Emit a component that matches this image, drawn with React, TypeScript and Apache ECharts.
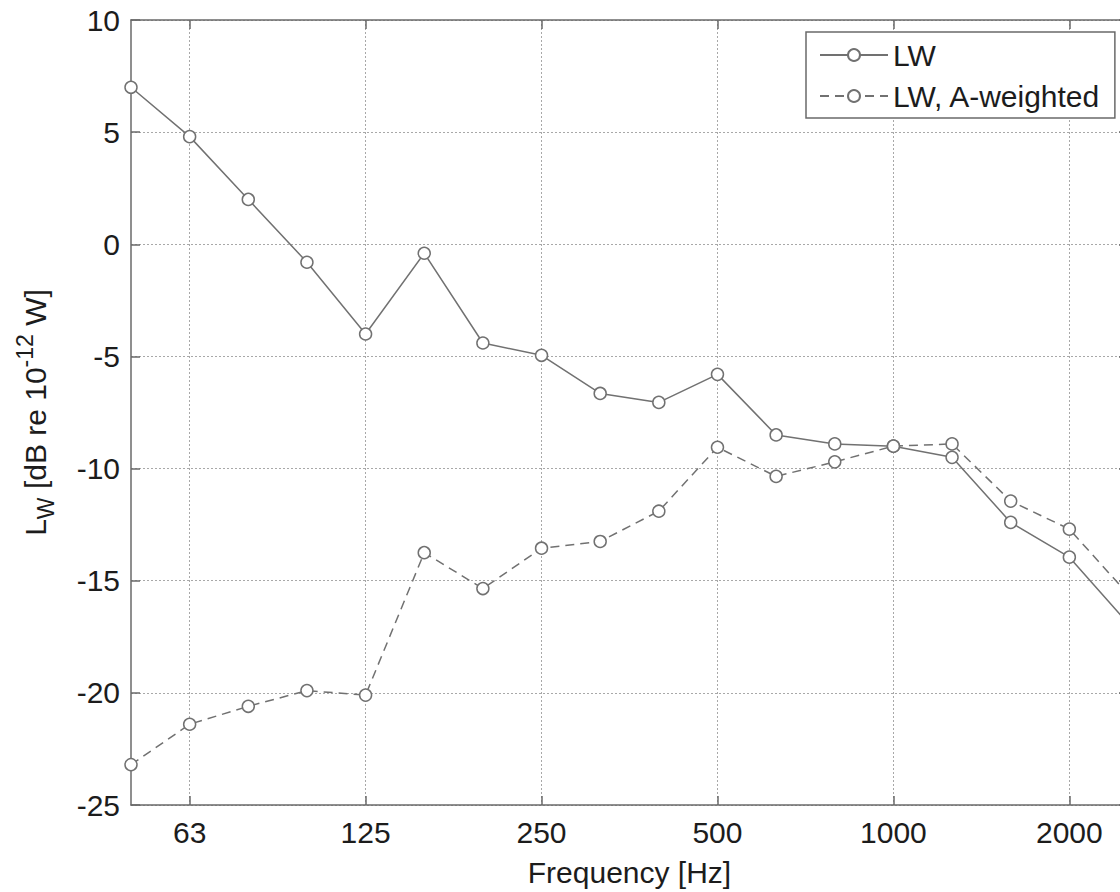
import React, { useEffect, useRef } from "react";
import * as echarts from "echarts";

const freqLabels = ["50", "63", "80", "100", "125", "160", "200", "250", "315", "400", "500", "630", "800", "1000", "1250", "1600", "2000", "2500"];
const tickLabels = ["63", "125", "250", "500", "1000", "2000"];
const lwValues = [7.0, 4.8, 2.0, -0.8, -4.0, -0.4, -4.4, -4.95, -6.65, -7.05, -5.8, -8.5, -8.9, -9.0, -9.5, -12.4, -13.95, -16.9];
const lwAValues = [-23.2, -21.4, -20.6, -19.9, -20.1, -13.75, -15.35, -13.55, -13.25, -11.9, -9.05, -10.35, -9.7, -9.0, -8.9, -11.45, -12.7, -15.6];
const seriesNames = ["LW", "LW, A-weighted"];

const FONT = "'Liberation Sans', Arial, Helvetica, sans-serif";
const TEXT = "#1c1c1c";
const AXIS = "#6a6a6a";
const LINE = "#717171";
const GRID = "#a8a8a8";

export default function App() {
  const ref = useRef<HTMLDivElement>(null);
  useEffect(() => {
    if (!ref.current) return;
    const chart = echarts.init(ref.current, null, { renderer: "svg" });
    const tickSet = new Set(tickLabels);
    const showTick = (_i: number, v: string) => tickSet.has(v);
    const markerStyle = { color: "#ffffff", borderColor: LINE, borderWidth: 1.5 };
    chart.setOption({
      animation: false,
      backgroundColor: "#ffffff",
      textStyle: { fontFamily: FONT },
      grid: { left: 131, top: 20, right: 52, bottom: 86, containLabel: false },
      legend: {
        left: 806,
        top: 32,
        orient: "vertical",
        align: "left",
        padding: [8, 14, 7, 13],
        itemGap: 11,
        itemWidth: 68,
        itemHeight: 15,
        itemTextGap: 8,
        backgroundColor: "#ffffff",
        borderColor: AXIS,
        borderWidth: 1.5,
        borderRadius: 0,
        textStyle: { fontSize: 30, color: TEXT, fontFamily: FONT },
        data: seriesNames,
      },
      xAxis: [
        {
          type: "category",
          data: freqLabels,
          boundaryGap: false,
          position: "bottom",
          name: "Frequency [Hz]",
          nameLocation: "middle",
          nameGap: 52,
          nameTextStyle: { fontSize: 30, color: TEXT, fontFamily: FONT },
          axisLine: { show: true, onZero: false, lineStyle: { color: AXIS, width: 1.5 } },
          axisTick: { show: true, inside: true, length: 9, interval: showTick, lineStyle: { color: AXIS, width: 1.5 } },
          axisLabel: { show: true, interval: showTick, margin: 12, fontSize: 30, color: TEXT, fontFamily: FONT },
          splitLine: { show: true, interval: showTick, lineStyle: { color: GRID, width: 1, type: [2, 2] } },
        },
        {
          type: "category",
          data: freqLabels,
          boundaryGap: false,
          position: "top",
          axisLine: { show: true, onZero: false, lineStyle: { color: AXIS, width: 1.5 } },
          axisTick: { show: true, inside: true, length: 9, interval: showTick, lineStyle: { color: AXIS, width: 1.5 } },
          axisLabel: { show: false },
          splitLine: { show: false },
        },
      ],
      yAxis: [
        {
          type: "value",
          min: -25,
          max: 10,
          interval: 5,
          position: "left",
          name: "{a|L}{sub|W}{a| [dB re 10}{sup|-12}{a| W]}",
          nameLocation: "middle",
          nameRotate: 90,
          nameGap: 74,
          nameTextStyle: {
            color: TEXT,
            fontFamily: FONT,
            fontSize: 30,
            rich: {
              a: { fontSize: 30, color: TEXT, fontFamily: FONT, lineHeight: 44, verticalAlign: "middle" },
              sub: { fontSize: 23, color: TEXT, fontFamily: FONT, lineHeight: 22, verticalAlign: "bottom" },
              sup: { fontSize: 23, color: TEXT, fontFamily: FONT, lineHeight: 22, verticalAlign: "top" },
            },
          },
          axisLine: { show: true, onZero: false, lineStyle: { color: AXIS, width: 1.5 } },
          axisTick: { show: true, inside: true, length: 9, lineStyle: { color: AXIS, width: 1.5 } },
          axisLabel: { show: true, margin: 11, fontSize: 30, color: TEXT, fontFamily: FONT },
          splitLine: { show: true, lineStyle: { color: GRID, width: 1, type: [2, 2] } },
        },
        {
          type: "value",
          min: -25,
          max: 10,
          interval: 5,
          position: "right",
          axisLine: { show: true, onZero: false, lineStyle: { color: AXIS, width: 1.5 } },
          axisTick: { show: true, inside: true, length: 9, lineStyle: { color: AXIS, width: 1.5 } },
          axisLabel: { show: false },
          splitLine: { show: false },
        },
      ],
      series: [
        {
          name: seriesNames[0],
          type: "line",
          xAxisIndex: 0,
          yAxisIndex: 0,
          data: lwValues,
          symbol: "circle",
          symbolSize: 12,
          showAllSymbol: true,
          itemStyle: markerStyle,
          lineStyle: { color: LINE, width: 1.5, type: "solid" },
          emphasis: { disabled: true },
          z: 3,
        },
        {
          name: seriesNames[1],
          type: "line",
          xAxisIndex: 0,
          yAxisIndex: 0,
          data: lwAValues,
          symbol: "circle",
          symbolSize: 12,
          showAllSymbol: true,
          itemStyle: markerStyle,
          lineStyle: { color: LINE, width: 1.5, type: [9, 6] },
          emphasis: { disabled: true },
          z: 2,
        },
      ],
    });
    return () => chart.dispose();
  }, []);
  return (
    <div style={{ position: "fixed", left: 0, top: 0, width: 1120, height: 892, overflow: "hidden", background: "#ffffff" }}>
      <div ref={ref} style={{ width: 1180, height: 892 }} />
    </div>
  );
}
